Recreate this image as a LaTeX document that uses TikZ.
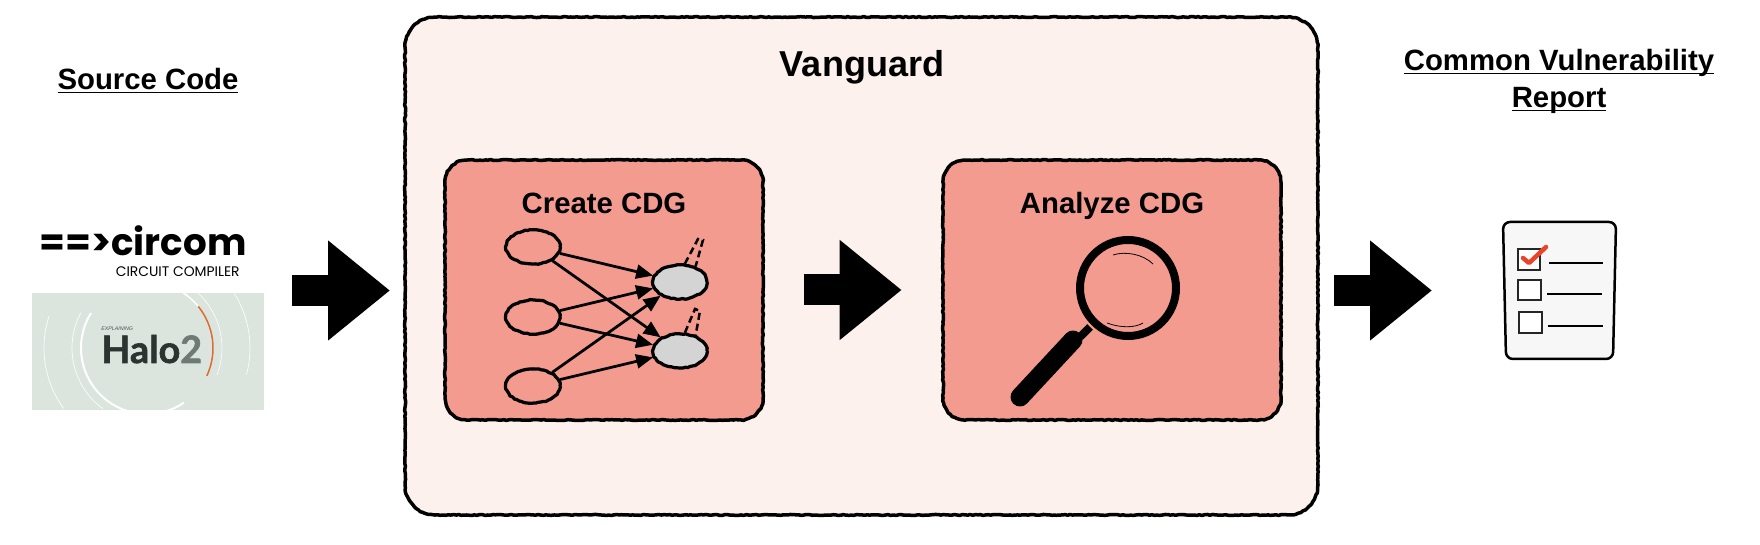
\documentclass[tikz,border=0pt]{standalone}
\usepackage{fontspec}
\setmainfont{Liberation Sans}
\newfontfamily\circomfont{Poppins}
\newfontfamily\halofont[BoldFeatures={FakeBold=1.6}]{Lato}
\usepackage{xcolor}
\usetikzlibrary{arrows.meta,decorations.pathmorphing,shapes.geometric}
\definecolor{paleback}{HTML}{FCF1EC}
\definecolor{salmon}{HTML}{F49B90}
\definecolor{sage}{HTML}{DBE5DE}
\definecolor{haloorange}{HTML}{DD6B33}
\definecolor{checkred}{HTML}{E8442A}
\definecolor{halodark}{HTML}{2B3431}
\definecolor{halogrey}{HTML}{6F7A75}
\newcommand{\headfont}{\fontsize{16.7pt}{20.4pt}\selectfont\bfseries}
\newcommand{\headline}[1]{\underline{\smash{#1}}}
\tikzset{
  rough/.style={decorate, decoration={random steps, segment length=1.5pt, amplitude=0.28pt}, line join=round},
  stagebox/.style={fill=salmon, rounded corners=0.44cm, postaction={draw, sharp corners, rough, line width=0.07cm}},
  cdgnode/.style={draw, rough, ellipse, line width=0.065cm, minimum width=1.08cm, minimum height=0.68cm, inner sep=0pt},
  cdgedge/.style={line width=0.055cm, -{Triangle[length=0.34cm,width=0.28cm]}},
  blockarrow/.style={line width=0.62cm, -{Triangle[length=1.24cm,width=1.92cm]}},
  loopedge/.style={line width=0.05cm, dash pattern=on 0.14cm off 0.08cm},
}
\begin{document}
\begin{tikzpicture}[x=0.02cm, y=0.02cm]
  \pgfmathsetseed{7}
  \useasboundingbox (0,0) rectangle (1760,544);
  % source column
  \node[anchor=base, font=\headfont] (sourcetitle) at (148,454) {\headline{Source Code}};
  \node[anchor=base west, inner sep=0pt, font=\circomfont\fontsize{21.2pt}{21pt}\selectfont\bfseries] (circomlogo) at (39,288) {==>circom};
  \node[anchor=base east, inner sep=0pt, font=\circomfont\fontsize{7.9pt}{8pt}\selectfont] (circomsub) at (240,267) {CIRCUIT COMPILER};
  \node[fill=sage, minimum width=4.64cm, minimum height=2.34cm, inner sep=0pt] (halo) at (148,192.5) {};
  \begin{scope}
    \clip (halo.south west) rectangle (halo.north east);
    \coordinate (haloc) at (147,196);
    \draw[white, line width=0.04cm] (haloc) ++(148:66) arc[start angle=148, end angle=304, radius=66];
    \draw[white, line width=0.03cm] (haloc) ++(59:66) arc[start angle=59, end angle=39, radius=66];
    \draw[haloorange, line width=0.03cm] (haloc) ++(39:66) arc[start angle=39, end angle=-25, radius=66];
    \draw[white, line width=0.012cm] (haloc) ++(152:75) arc[start angle=152, end angle=234, radius=75];
    \draw[white, line width=0.012cm] (haloc) ++(48:75) arc[start angle=48, end angle=-21, radius=75];
    \draw[white, line width=0.012cm] (haloc) ++(162:103) arc[start angle=162, end angle=216, radius=103];
    \draw[white, line width=0.012cm] (haloc) ++(32:103) arc[start angle=32, end angle=-15, radius=103];
  \end{scope}
  \node[anchor=base west, inner sep=0pt, font=\fontsize{3pt}{3pt}\selectfont\itshape, text=black!70] (haloword) at (101,213) {EXPLAINING};
  \node[anchor=base west, inner sep=0pt, font=\halofont\fontsize{21.5pt}{21.5pt}\selectfont\bfseries, text=halodark] (halotext) at (101,181) {Halo\textcolor{halogrey}{2}};
  % vanguard
  \node[stagebox, fill=paleback, rounded corners=0.6cm, minimum width=18.26cm, minimum height=9.96cm] (vanguard) at (861.5,278) {};
  \node[anchor=base, font=\fontsize{20.5pt}{24pt}\selectfont\bfseries] (vanguardtitle) at (862,467) {Vanguard};
  % create cdg
  \node[stagebox, minimum width=6.36cm, minimum height=5.2cm] (create) at (604,254) {};
  \node[anchor=base, font=\headfont] (createtitle) at (604,330) {Create CDG};
  \node[cdgnode] (in1) at (533,297) {};
  \node[cdgnode] (in2) at (533,227) {};
  \node[cdgnode] (in3) at (533,158) {};
  \node[cdgnode, fill=black!17] (out1) at (680,262) {};
  \node[cdgnode, fill=black!17] (out2) at (680,193) {};
  \foreach \a in {in1,in2,in3}
    \foreach \b in {out1,out2}
      \draw[cdgedge] (\a) -- (\b);
  \coordinate (tip1a) at (698,305);
  \coordinate (tip1b) at (703,304);
  \coordinate (tip2a) at (695,235);
  \coordinate (tip2b) at (700,233);
  \draw[loopedge] (out1.75) -- (tip1a) -- (tip1b) -- (out1.45);
  \draw[loopedge] (out2.75) -- (tip2a) -- (tip2b) -- (out2.45);
  % analyze cdg
  \node[stagebox, minimum width=6.76cm, minimum height=5.2cm] (analyze) at (1112,254) {};
  \node[anchor=base, font=\headfont] (analyzetitle) at (1112,330) {Analyze CDG};
  \draw[line width=0.16cm] (1128,256) circle[radius=48];
  \draw[line width=0.016cm] (1113,289) .. controls (1125,293) and (1143,290) .. (1153,280);
  \draw[line width=0.016cm] (1107,221) .. controls (1120,216) and (1135,216) .. (1143,221);
  \draw[line width=0.16cm] (1090,217) -- (1080,207);
  \draw[line width=0.38cm, line cap=round] (1073,204) -- (1020,147);
  % report column
  \node[anchor=base, font=\headfont] (reporttitle) at (1559,473) {\headline{Common Vulnerability}};
  \node[anchor=base, font=\headfont] (reporttitleb) at (1559,436) {\headline{Report}};
  \draw[line width=0.05cm, rounded corners=0.14cm, fill=black!3] (1503,322) -- (1616,322) -- (1613,185) -- (1506,185) -- cycle;
  \draw[line width=0.03cm, black!85, fill=white] (1518,295) rectangle (1540,274);
  \draw[line width=0.03cm, black!85, fill=white] (1518,264) rectangle (1541,244);
  \draw[line width=0.03cm, black!85, fill=white] (1519,232) rectangle (1542,211);
  \draw[checkred, line width=0.09cm, line cap=round, line join=round] (1523,286) -- (1529,281) -- (1546,297);
  \draw[line width=0.03cm] (1549,281) -- (1603,281);
  \draw[line width=0.03cm] (1547,250) -- (1602,250);
  \draw[line width=0.03cm] (1548,218) -- (1603,218);
  % arrows
  \coordinate (srcout) at (292,253.5);
  \coordinate (vanguardin) at (390,253.5);
  \coordinate (vanguardout) at (1334,253.5);
  \coordinate (reportin) at (1432,253.5);
  \draw[blockarrow] (srcout) -- (vanguardin);
  \draw[blockarrow, shorten <=0.82cm, shorten >=0.82cm] (create.east) -- (analyze.west);
  \draw[blockarrow] (vanguardout) -- (reportin);
\end{tikzpicture}
\end{document}
